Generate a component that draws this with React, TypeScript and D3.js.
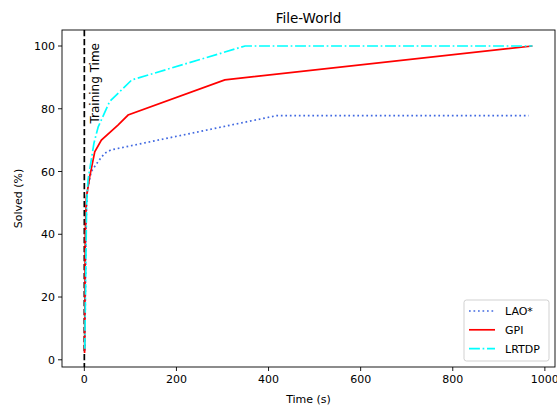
import React from "react";
import * as d3 from "d3";

const title = "File-World";
const xLabel = "Time (s)";
const yLabel = "Solved (%)";
const xTicks = [0, 200, 400, 600, 800, 1000];
const yTicks = [0, 20, 40, 60, 80, 100];

const laoX = [1, 4, 6.5, 15, 30, 44, 58, 417, 965];
const laoY = [3, 45, 54, 60, 63.2, 65.8, 66.9, 77.8, 77.8];
const gpiX = [0.5, 2, 4.3, 11.7, 22.6, 37, 73, 95, 305, 973];
const gpiY = [2.2, 40, 51.6, 58.4, 66.3, 70, 74.8, 78, 89.2, 100];
const lrtdpX = [1, 5, 8, 21, 30, 55, 103, 349, 973];
const lrtdpY = [3.5, 50, 57.3, 69.1, 74.2, 82.3, 89.2, 100, 100];
const trainingTime = 0;

const seriesNames = ["LAO*", "GPI", "LRTDP"];
const seriesX = [laoX, gpiX, lrtdpX];
const seriesY = [laoY, gpiY, lrtdpY];
const colors = ["#4169E1", "#FF0000", "#00FFFF"];
const dashes = ["1.7 2.8", "", "10.9 2.7 1.7 2.7"];

const W = 557, H = 409;
const L = 62, R = 555, T = 30, B = 367;
const FONT = "DejaVu Sans, sans-serif";

export default function App() {
  const x = d3.scaleLinear().domain([-48.5, 1022]).range([L, R]);
  const y = d3.scaleLinear().domain([-2.3, 105.1]).range([B, T]);
  const line = d3.line<[number, number]>().x((d) => x(d[0])).y((d) => y(d[1]));
  const fs = 11;

  return (
    <svg width={W} height={H} style={{ position: "absolute", left: 0, top: 0, background: "#fff" }} fontFamily={FONT}>
      <rect x={0} y={0} width={W} height={H} fill="#fff" />
      <text x={(L + R) / 2} y={23} textAnchor="middle" fontSize={13.5} fill="#000">{title}</text>
      {/* training time line */}
      <line x1={x(trainingTime)} x2={x(trainingTime)} y1={T} y2={B} stroke="#000" strokeWidth={1.7} strokeDasharray="6.3 2.7" />
      <text transform={`translate(${x(trainingTime) + 15},${43}) rotate(-90)`} textAnchor="end" fontSize={12} fill="#000">Training Time</text>
      {seriesNames.map((n, i) => (
        <path key={n} d={line(seriesX[i].map((v, j) => [v, seriesY[i][j]]) as [number, number][]) || ""}
          fill="none" stroke={colors[i]} strokeWidth={1.7} strokeDasharray={dashes[i] || undefined} />
      ))}
      {/* frame */}
      <rect x={L} y={T} width={R - L} height={B - T} fill="none" stroke="#000" strokeWidth={0.9} />
      {xTicks.map((t) => (
        <g key={t}>
          <line x1={x(t)} x2={x(t)} y1={B} y2={B + 4} stroke="#000" strokeWidth={0.9} />
          <text x={x(t)} y={B + 16} textAnchor="middle" fontSize={fs} fill="#000">{t}</text>
        </g>
      ))}
      {yTicks.map((t) => (
        <g key={t}>
          <line x1={L - 4} x2={L} y1={y(t)} y2={y(t)} stroke="#000" strokeWidth={0.9} />
          <text x={L - 7} y={y(t) + 4} textAnchor="end" fontSize={fs} fill="#000">{t}</text>
        </g>
      ))}
      <text x={(L + R) / 2} y={403} textAnchor="middle" fontSize={fs} fill="#000">{xLabel}</text>
      <text transform={`translate(22,${(T + B) / 2}) rotate(-90)`} textAnchor="middle" fontSize={fs} fill="#000">{yLabel}</text>
      {/* legend */}
      <rect x={464} y={300} width={85} height={61} rx={2.5} fill="#fff" fillOpacity={0.8} stroke="#cccccc" strokeWidth={0.9} />
      {seriesNames.map((n, i) => (
        <g key={n}>
          <line x1={469} x2={495} y1={311 + i * 18.8} y2={311 + i * 18.8} stroke={colors[i]} strokeWidth={1.7} strokeDasharray={dashes[i] || undefined} />
          <text x={505} y={311 + i * 18.8 + 4} fontSize={fs} fill="#000">{n}</text>
        </g>
      ))}
    </svg>
  );
}
